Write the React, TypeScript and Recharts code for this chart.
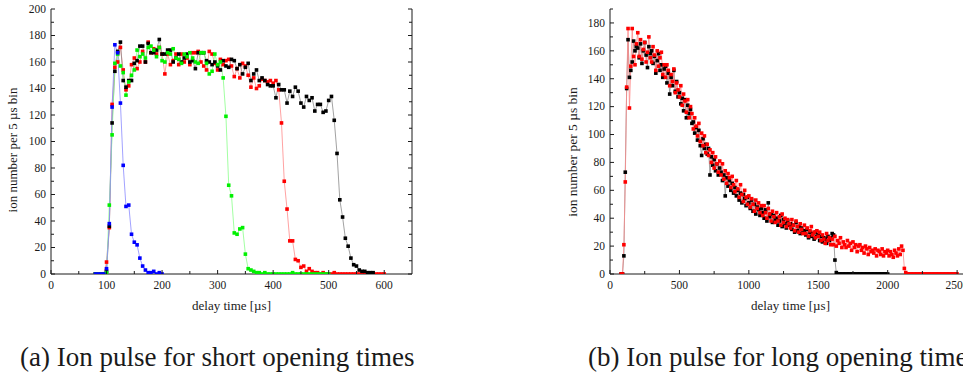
import React from "react";
import { LineChart, Line, XAxis, YAxis } from "recharts";

// ── (a) short opening times: 5 µs bins, first bin at 80 µs ──────────
const SHORT_T0 = 80;
const SHORT_STEP = 5;

const shortBlue = [
  0, 0, 0, 0, 4, 38, 126, 173, 167, 129, 82, 51, 52, 30, 24, 22, 12, 6, 3, 1,
  1, 2, 0, 1, 0,
];

const shortGreen = [
  0, 0, 0, 0,
  1, 52, 105, 159, 166, 157, 152, 135, 145, 150,
  154, 169, 164, 166, 163, 171, 172, 169, 164, 171,
  161, 160, 167, 166, 170, 163, 162, 159, 166, 164,
  167, 163, 160, 159, 167, 167, 159, 151, 153, 166,
  158, 160, 148, 119, 67, 59, 31, 30, 34, 35,
  15, 4, 3, 2, 1, 1, 0, 1, 0, 0,
  0, 0, 0, 0, 0, 0, 0, 1, 0, 0,
  0, 0, 0, 0, 0, 0, 0, 0, 0, 0,
  0,
];

const shortRed = [
  0, 0, 0, 0,
  9, 35, 128, 156, 160, 171, 154, 139, 142, 158,
  163, 155, 160, 168, 160, 175, 167, 170, 166, 171,
  166, 151, 166, 158, 161, 166, 158, 166, 160, 163,
  158, 167, 167, 168, 160, 157, 154, 168, 166, 159,
  154, 162, 158, 161, 162, 157, 149, 155, 148, 159,
  157, 150, 141, 148, 140, 142, 147, 146, 145, 146,
  144, 146, 139, 114, 70, 49, 25, 25, 11, 10,
  5, 6, 2, 4, 2, 1, 1, 0, 1, 0,
  0, 0, 1, 0, 0, 0, 0, 0, 0, 0,
  0, 0, 0, 0, 0, 0, 0, 0, 0, 0,
  0,
];

const shortBlack = [
  0, 0, 0, 0,
  2, 36, 114, 153, 168, 175, 146, 141, 146, 146,
  159, 161, 172, 172, 160, 174, 167, 167, 169, 177,
  166, 166, 169, 169, 160, 163, 166, 160, 163, 166,
  160, 161, 155, 167, 167, 167, 161, 160, 158, 160,
  157, 154, 161, 157, 156, 162, 161, 155, 158, 151,
  156, 159, 146, 151, 154, 146, 148, 146, 143, 142,
  142, 133, 143, 139, 139, 129, 138, 134, 141, 138,
  129, 126, 134, 131, 133, 123, 128, 128, 122, 123,
  131, 134, 116, 91, 56, 43, 27, 21, 12, 7,
  6, 3, 2, 2, 1, 1, 1,
];

// ── (b) long opening time: 10 µs bins, first bin at 80 µs ───────────
const LONG_T0 = 80;
const LONG_STEP = 10;

const longBlack = [
  0, 0,
  13, 73, 133, 168, 141, 146, 152, 167, 160, 163,
  162, 155, 165, 151, 160, 166, 157, 148, 163, 158,
  160, 151, 156, 144, 153, 158, 146, 150, 141, 147,
  149, 137, 144, 129, 141, 135, 146, 131, 138, 127,
  130, 122, 126, 117, 125, 112, 121, 115, 118, 108,
  109, 101, 105, 96, 103, 92, 85, 97, 90, 93,
  86, 90, 71, 84, 78, 82, 74, 79, 71, 76,
  73, 67, 71, 56, 69, 63, 67, 60, 65, 58,
  62, 56, 60, 53, 58, 51, 57, 54, 49, 55,
  51, 47, 53, 45, 50, 43, 48, 46, 42, 47,
  44, 40, 46, 38, 51, 41, 43, 37, 42, 39,
  40, 35, 38, 42, 34, 39, 36, 33, 38, 35,
  36, 32, 35, 30, 37, 31, 34, 29, 33, 30,
  31, 28, 32, 26, 30, 27, 29, 25, 30, 27,
  28, 24, 27, 23, 26, 25, 22, 27, 24, 26,
  29, 28, 10, 1, 0, 0, 0, 0, 0, 0,
  0, 0, 0, 0, 0, 0, 0, 0, 0, 0,
  0, 0, 0, 0, 0, 0, 0, 0, 0, 0,
  0, 0, 0, 0, 0, 0, 0, 0, 0, 0,
  0,
];

const longRed = [
  0, 0,
  21, 66, 134, 176, 119, 149, 176, 156, 150, 165,
  173, 156, 168, 154, 161, 166, 152, 159, 170, 155,
  152, 163, 157, 146, 160, 149, 155, 159, 143, 150,
  141, 150, 146, 135, 143, 138, 147, 130, 137, 132,
  127, 135, 121, 129, 124, 116, 125, 112, 120, 115,
  104, 112, 106, 99, 108, 95, 101, 92, 99, 87,
  93, 85, 89, 80, 87, 76, 84, 79, 73, 81,
  71, 79, 68, 74, 65, 72, 69, 62, 70, 64,
  59, 67, 61, 55, 64, 57, 52, 60, 55, 50,
  56, 48, 54, 50, 45, 53, 47, 51, 44, 49,
  42, 49, 44, 40, 47, 43, 38, 45, 41, 37,
  44, 38, 41, 35, 43, 37, 40, 34, 39, 36,
  33, 39, 35, 31, 38, 34, 30, 36, 32, 29,
  35, 29, 33, 27, 31, 34, 28, 30, 26, 31,
  27, 30, 24, 28, 25, 22, 29, 24, 26, 21,
  25, 21, 27, 20, 24, 22, 26, 19, 23, 21,
  19, 24, 20, 22, 17, 23, 19, 21, 16, 20,
  21, 17, 19, 15, 20, 18, 14, 19, 16, 17,
  15, 18, 13, 17, 16, 14, 18, 13, 16, 15,
  17, 13, 16, 14, 12, 17, 15, 13, 18, 14,
  20, 17, 4, 1, 0, 0, 0, 0, 0, 0,
  0, 0, 0, 0, 0, 0, 0, 0, 0, 0,
  0, 0, 0, 0, 0, 0, 0, 0, 0, 0,
  0, 0, 0, 0, 0, 0, 0, 0, 0, 0,
  0,
];

// ── axis ticks (minor + major; labels only on multiples of "every") ──
const shortXTicks = [0, 50, 100, 150, 200, 250, 300, 350, 400, 450, 500, 550, 600];
const shortYTicks = [
  0, 10, 20, 30, 40, 50, 60, 70, 80, 90, 100, 110, 120, 130, 140, 150, 160,
  170, 180, 190, 200,
];
const longXTicks = [0, 250, 500, 750, 1000, 1250, 1500, 1750, 2000, 2250, 2500];
const longYTicks = [
  0, 10, 20, 30, 40, 50, 60, 70, 80, 90, 100, 110, 120, 130, 140, 150, 160,
  170, 180, 190,
];

const INK = "#1a1a1a";
const FONT = '"Liberation Serif", "Times New Roman", serif';

const toPoints = (vals: number[], t0: number, step: number) =>
  vals.map((y, i) => ({ x: t0 + i * step, y }));

// Inward-pointing frame ticks, like the original plotting program
function FrameTick(props: any) {
  const { x, y, payload, side, every } = props;
  const v = Number(payload.value);
  const major = v % every === 0;
  const len = major ? 4 : 3;
  const label = (tx: number, ty: number, anchor: string) => (
    <text x={tx} y={ty} textAnchor={anchor} fontSize={11.5} fontFamily={FONT} fill={INK}>
      {v}
    </text>
  );
  if (side === "bottom")
    return (
      <g>
        <line x1={x} y1={y} x2={x} y2={y - len} stroke={INK} />
        {major && label(x, y + 15, "middle")}
      </g>
    );
  if (side === "left")
    return (
      <g>
        <line x1={x} y1={y} x2={x + len} y2={y} stroke={INK} />
        {major && label(x - 5, y + 3.8, "end")}
      </g>
    );
  if (side === "top")
    return <line x1={x} y1={y} x2={x} y2={y + len} stroke={INK} />;
  return <line x1={x} y1={y} x2={x - len} y2={y} stroke={INK} />;
}

const squareDot = (fill: string, s: number) => (p: any) => {
  if (p.cx == null || p.cy == null) return <g key={`e${p.index}`} />;
  return (
    <rect
      key={`d${p.index}`}
      x={p.cx - s / 2}
      y={p.cy - s / 2}
      width={s}
      height={s}
      fill={fill}
    />
  );
};

interface Series {
  name: string;
  points: { x: number; y: number }[];
  line: string;
  mark: string;
}

interface PanelProps {
  left: number;
  xDomain: [number, number];
  yDomain: [number, number];
  xTicks: number[];
  yTicks: number[];
  xEvery: number;
  yEvery: number;
  yAxisWidth: number;
  series: Series[];
}

function Panel({
  left,
  xDomain,
  yDomain,
  xTicks,
  yTicks,
  xEvery,
  yEvery,
  yAxisWidth,
  series,
}: PanelProps) {
  const axisCommon = {
    type: "number" as const,
    allowDataOverflow: true,
    interval: 0 as const,
    tickSize: 0,
    tickMargin: 0,
    tickLine: false,
    axisLine: { stroke: INK, strokeWidth: 1 },
  };
  return (
    <div style={{ position: "absolute", left, top: 0 }}>
      <LineChart
        width={440}
        height={320}
        margin={{ top: 9, right: 0, bottom: 0, left: 0 }}
      >
        <XAxis
          {...axisCommon}
          dataKey="x"
          domain={xDomain}
          ticks={xTicks}
          height={46}
          tick={<FrameTick side="bottom" every={xEvery} />}
        />
        <XAxis
          {...axisCommon}
          xAxisId="top"
          orientation="top"
          dataKey="x"
          domain={xDomain}
          ticks={xTicks}
          height={0}
          tick={<FrameTick side="top" every={xEvery} />}
        />
        <YAxis
          {...axisCommon}
          domain={yDomain}
          ticks={yTicks}
          width={yAxisWidth}
          tick={<FrameTick side="left" every={yEvery} />}
        />
        <YAxis
          {...axisCommon}
          yAxisId="right"
          orientation="right"
          domain={yDomain}
          ticks={yTicks}
          width={440 - yAxisWidth - 361}
          tick={<FrameTick side="right" every={yEvery} />}
        />
        {series.map((s) => (
          <Line
            key={s.name}
            name={s.name}
            data={s.points}
            dataKey="y"
            type="linear"
            stroke={s.line}
            strokeWidth={0.8}
            dot={squareDot(s.mark, 3.6)}
            activeDot={false}
            isAnimationActive={false}
          />
        ))}
      </LineChart>
    </div>
  );
}

export default function App() {
  const shortSeries: Series[] = [
    { name: "red", points: toPoints(shortRed, SHORT_T0, SHORT_STEP), line: "#ff8a8a", mark: "#ff0000" },
    { name: "black", points: toPoints(shortBlack, SHORT_T0, SHORT_STEP), line: "#8a8a8a", mark: "#000000" },
    { name: "green", points: toPoints(shortGreen, SHORT_T0, SHORT_STEP), line: "#8aff8a", mark: "#00f000" },
    { name: "blue", points: toPoints(shortBlue, SHORT_T0, SHORT_STEP), line: "#8a8aff", mark: "#0000ff" },
  ];
  const longSeries: Series[] = [
    { name: "black", points: toPoints(longBlack, LONG_T0, LONG_STEP), line: "#8a8a8a", mark: "#000000" },
    { name: "red", points: toPoints(longRed, LONG_T0, LONG_STEP), line: "#ff8a8a", mark: "#ff0000" },
  ];

  return (
    <div
      style={{
        position: "absolute",
        left: 0,
        top: 0,
        width: 963,
        height: 385,
        overflow: "hidden",
        background: "#ffffff",
        fontFamily: FONT,
      }}
    >
      <Panel
        left={0}
        xDomain={[0, 650]}
        yDomain={[0, 200]}
        xTicks={shortXTicks}
        yTicks={shortYTicks}
        xEvery={100}
        yEvery={20}
        yAxisWidth={51}
        series={shortSeries}
      />
      <Panel
        left={560}
        xDomain={[0, 2600]}
        yDomain={[0, 190]}
        xTicks={longXTicks}
        yTicks={longYTicks}
        xEvery={500}
        yEvery={20}
        yAxisWidth={50}
        series={longSeries}
      />
      <svg
        width={963}
        height={385}
        style={{ position: "absolute", left: 0, top: 0, pointerEvents: "none" }}
        fontFamily={FONT}
        fill={INK}
      >
        <text transform="translate(17,150) rotate(-90)" textAnchor="middle" fontSize={13}>
          ion number per 5 µs bin
        </text>
        <text x={231.5} y={310} textAnchor="middle" fontSize={13}>
          delay time [µs]
        </text>
        <text transform="translate(577,152) rotate(-90)" textAnchor="middle" fontSize={13.5}>
          ion number per 5 µs bin
        </text>
        <text x={790.5} y={310} textAnchor="middle" fontSize={13}>
          delay time [µs]
        </text>
        <text x={20} y={366} fontSize={27}>
          (a) Ion pulse for short opening times
        </text>
        <text x={588} y={366} fontSize={27}>
          (b) Ion pulse for long opening times
        </text>
      </svg>
    </div>
  );
}
